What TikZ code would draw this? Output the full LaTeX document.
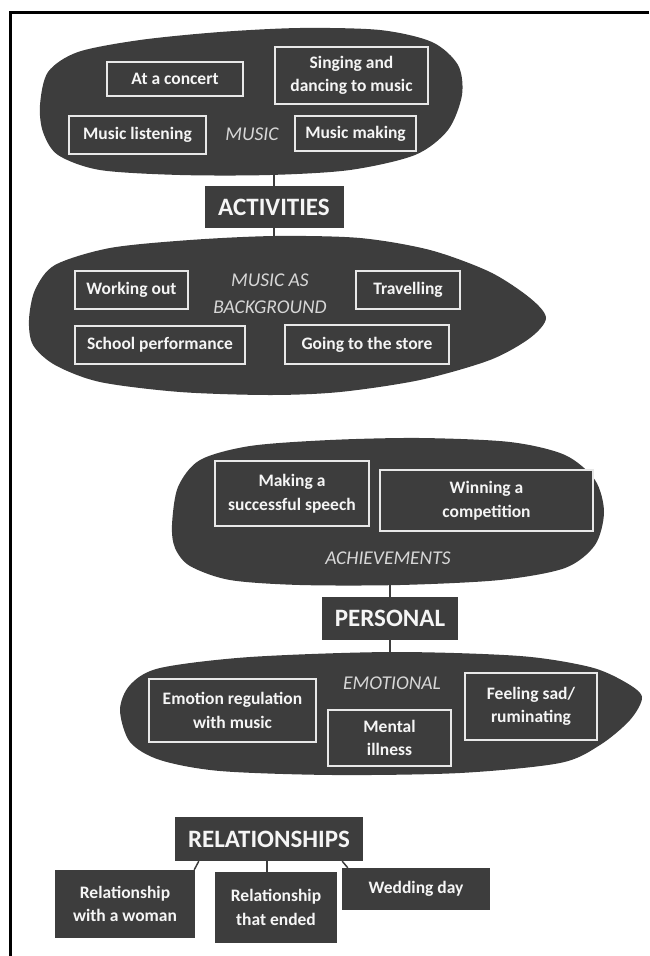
\documentclass[tikz,border=0pt]{standalone}
\usepackage{fontspec}
\setmainfont{Carlito}
\definecolor{dark}{RGB}{61,61,61}
\definecolor{boxline}{RGB}{232,232,232}
\definecolor{lblgray}{RGB}{215,215,215}
\definecolor{txt}{RGB}{245,245,245}
\begin{document}
\begin{tikzpicture}[x=1pt,y=-1pt,
  blob/.style={fill=dark},
  obox/.style={draw=boxline,line width=1.8pt,fill=dark,text=txt,align=center,inner sep=0pt,
    font=\fontsize{17.5}{23.5}\selectfont\bfseries},
  sbox/.style={fill=dark,text=txt,align=center,inner sep=0pt,
    font=\fontsize{17.5}{23.5}\selectfont\bfseries},
  hbox/.style={fill=dark,text=txt,align=center,inner sep=0pt,
    font=\fontsize{25}{30}\selectfont\bfseries},
  lbl/.style={text=lblgray,align=center,inner sep=0pt,
    font=\fontsize{19.5}{27}\selectfont\itshape},
  conn/.style={draw=dark,line width=1.5pt}]
\useasboundingbox (0,0) rectangle (649,956);
% frame
\draw[line width=3pt] (649,12) -- (10.5,12) -- (10.5,956);
% blobs
\fill[blob] plot[smooth cycle] coordinates {(40,105) (48,72) (78,52) (140,40) (220,32) (300,28) (380,30) (432,42) (458,65) (462,95) (448,130) (415,155) (350,170) (270,175) (180,175) (100,170) (58,155) (43,132)};
\fill[blob] plot[smooth cycle] coordinates {(29,320) (35,290) (55,265) (110,248) (190,240) (275,236) (360,238) (430,250) (490,272) (530,298) (546,318) (530,338) (490,360) (420,380) (340,392) (270,395) (180,392) (100,382) (55,365) (33,345)};
\fill[blob] plot[smooth cycle] coordinates {(172,525) (178,487) (200,460) (250,446) (330,440) (420,438) (510,442) (565,455) (595,480) (604,512) (595,545) (565,568) (500,580) (400,585) (300,585) (230,580) (190,566) (175,548)};
\fill[blob] plot[smooth cycle] coordinates {(120,710) (130,685) (160,668) (250,657) (392,652) (520,656) (590,667) (625,682) (642,697) (630,720) (600,745) (560,763) (460,773) (333,775) (220,771) (160,760) (130,742)};
\coordinate (b1s) at (274,174);
\coordinate (b2n) at (274,237);
\coordinate (b3s) at (390,584);
\coordinate (b4n) at (390,653);
% music blob
\node[obox,minimum width=136pt,minimum height=34pt] (concert) at (175,79) {At a concert};
\node[obox,minimum width=153pt,minimum height=57pt] (singing) at (351.5,75.5) {Singing and\\dancing to music};
\node[obox,minimum width=137pt,minimum height=38pt] (listen) at (137.5,135) {Music listening};
\node[lbl] (music) at (252,134) {MUSIC};
\node[obox,minimum width=121pt,minimum height=35pt] (making) at (355.5,133.5) {Music making};
% activities
\node[hbox,minimum width=139pt,minimum height=42pt] (act) at (274,207) {ACTIVITIES};
% background blob
\node[obox,minimum width=113pt,minimum height=38pt] (work) at (131.5,290) {Working out};
\node[lbl] (bg) at (270,293.5) {MUSIC AS\\BACKGROUND};
\node[obox,minimum width=104pt,minimum height=38pt] (travel) at (408,290) {Travelling};
\node[obox,minimum width=170pt,minimum height=38pt] (school) at (160,345) {School performance};
\node[obox,minimum width=164pt,minimum height=39pt] (store) at (367,344.5) {Going to the store};
% achievements
\node[obox,minimum width=154pt,minimum height=65pt] (speech) at (292,493.5) {Making a\\successful speech};
\node[obox,minimum width=213pt,minimum height=61pt] (win) at (486.5,500.5) {Winning a\\competition};
\node[lbl] (ach) at (388,558) {ACHIEVEMENTS};
\node[hbox,minimum width=136pt,minimum height=43pt] (pers) at (390,618.5) {PERSONAL};
% emotional
\node[obox,minimum width=167pt,minimum height=63pt] (emo) at (232.5,710.5) {Emotion regulation\\with music};
\node[lbl] (emot) at (392,683) {EMOTIONAL};
\node[obox,minimum width=123pt,minimum height=56pt] (mental) at (389.5,738) {Mental\\illness};
\node[obox,minimum width=132pt,minimum height=67pt] (sad) at (531,706.5) {Feeling sad/\\ruminating};
% relationships
\node[hbox,minimum width=188pt,minimum height=44pt] (rel) at (269,839) {RELATIONSHIPS};
\node[sbox,minimum width=140pt,minimum height=68pt] (woman) at (125,904) {Relationship\\with a woman};
\node[sbox,minimum width=122pt,minimum height=71pt] (ended) at (276,907.5) {Relationship\\that ended};
\node[sbox,minimum width=148pt,minimum height=42pt] (wed) at (416,889) {Wedding day};
% connectors
\draw[conn] (b1s) -- (act.north);
\draw[conn] (act.south) -- (b2n);
\draw[conn] (b3s) -- (pers.north);
\draw[conn] (pers.south) -- (b4n);
\draw[conn] ([xshift=24pt]rel.south west) -- ([xshift=-1pt]woman.north east);
\draw[conn] ([xshift=-2pt]rel.south) -- ([xshift=-2pt]rel.south |- ended.north);
\draw[conn] ([xshift=-21pt]rel.south east) -- ([xshift=6pt]wed.north west);
\end{tikzpicture}
\end{document}
